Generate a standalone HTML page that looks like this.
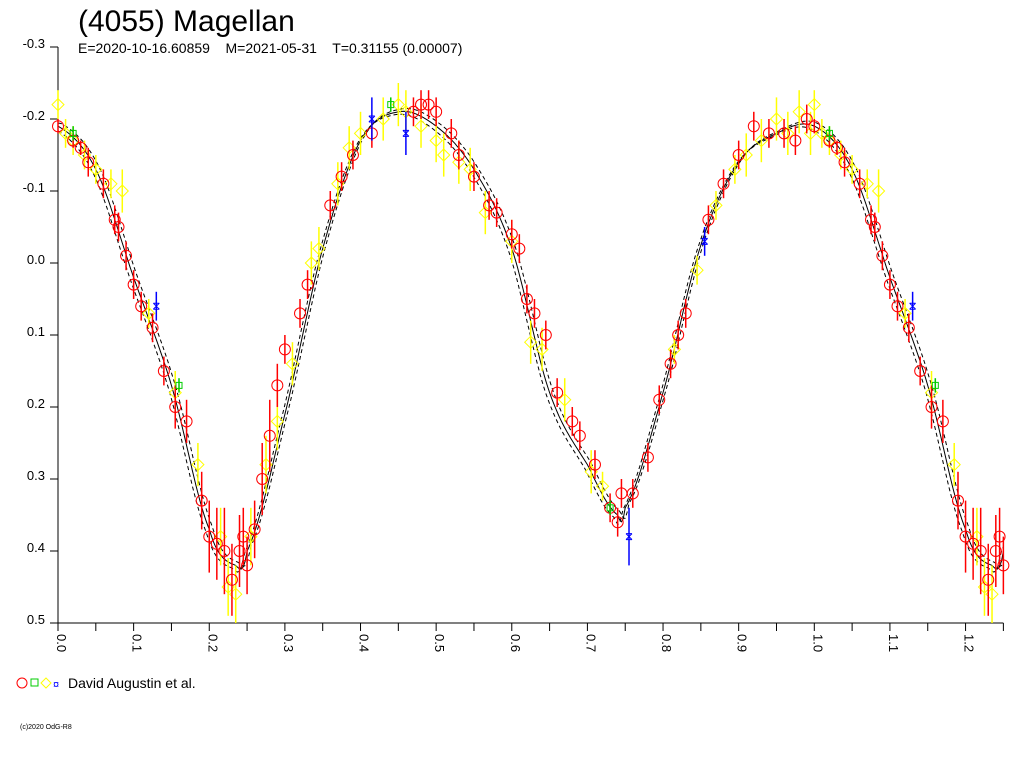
<!DOCTYPE html>
<html><head><meta charset="utf-8"><style>
body{margin:0;background:#fff;width:1024px;height:768px;overflow:hidden;font-family:"Liberation Sans",sans-serif}
svg text{font-family:"Liberation Sans",sans-serif}
</style></head><body>
<svg id="chart" width="1024" height="768" viewBox="0 0 1024 768" xmlns="http://www.w3.org/2000/svg">
<text x="78" y="31" font-size="30">(4055) Magellan</text>
<text x="78" y="53" font-size="14" style="white-space:pre" xml:space="preserve">E=2020-10-16.60859    M=2021-05-31    T=0.31155 (0.00007)</text>
<g id="axes"></g>
<g id="curves"></g>
<g id="obs"></g>
<g>
<circle cx="22" cy="683" r="5" fill="none" stroke="red"/>
<rect x="31" y="679" width="7" height="7" fill="none" stroke="#0c0"/>
<path d="M46 678 L51 683 L46 688 L41 683Z" fill="none" stroke="yellow"/>
<text x="53" y="688" font-size="11" fill="blue">¤</text>
<text x="68" y="688" font-size="14">David Augustin et al.</text>
</g>
<text x="20" y="729" font-size="7">(c)2020 OdG-R8</text>
</svg>
<script>
const curvePhase=[0,0.05,0.10,0.15,0.20,0.235,0.25,0.30,0.35,0.40,0.45,0.50,0.55,0.60,0.65,0.70,0.74,0.75,0.80,0.85,0.90,0.95,1.00];
const curveMag=[-0.19,-0.13,0.02,0.17,0.37,0.42,0.40,0.21,-0.02,-0.17,-0.21,-0.19,-0.13,-0.02,0.18,0.28,0.35,0.34,0.18,-0.025,-0.14,-0.18,-0.19];
const redPhase=[0,0.02,0.03,0.04,0.06,0.075,0.08,0.09,0.1,0.11,0.125,0.14,0.155,0.17,0.19,0.2,0.21,0.22,0.23,0.24,0.245,0.25,0.26,0.27,0.28,0.29,0.3,0.32,0.33,0.36,0.375,0.39,0.415,0.47,0.48,0.49,0.5,0.52,0.53,0.55,0.57,0.58,0.6,0.61,0.62,0.63,0.645,0.66,0.68,0.69,0.71,0.73,0.74,0.745,0.76,0.78,0.795,0.81,0.82,0.83,0.86,0.88,0.9,0.92,0.94,0.96,0.975,0.99];
const redMag=[-0.19,-0.17,-0.16,-0.14,-0.11,-0.06,-0.05,-0.01,0.03,0.06,0.09,0.15,0.2,0.22,0.33,0.38,0.39,0.4,0.44,0.4,0.38,0.42,0.37,0.3,0.24,0.17,0.12,0.07,0.03,-0.08,-0.12,-0.15,-0.18,-0.21,-0.22,-0.22,-0.21,-0.18,-0.15,-0.12,-0.08,-0.07,-0.04,-0.02,0.05,0.07,0.1,0.18,0.22,0.24,0.28,0.34,0.36,0.32,0.32,0.27,0.19,0.14,0.1,0.07,-0.06,-0.11,-0.15,-0.19,-0.18,-0.18,-0.17,-0.2];
const redErr=[0.01,0.01,0.01,0.02,0.02,0.02,0.02,0.02,0.02,0.02,0.02,0.02,0.03,0.03,0.04,0.05,0.05,0.06,0.05,0.05,0.04,0.04,0.04,0.05,0.05,0.03,0.02,0.02,0.02,0.02,0.02,0.02,0.02,0.02,0.02,0.02,0.02,0.02,0.02,0.02,0.02,0.02,0.02,0.02,0.02,0.02,0.02,0.02,0.02,0.02,0.02,0.02,0.02,0.02,0.02,0.02,0.02,0.02,0.02,0.02,0.02,0.02,0.02,0.02,0.02,0.02,0.02,0.02];
const yelPhase=[0.0,0.01,0.02,0.035,0.05,0.07,0.085,0.12,0.155,0.185,0.215,0.225,0.235,0.255,0.275,0.29,0.31,0.335,0.345,0.37,0.385,0.4,0.43,0.45,0.46,0.48,0.5,0.51,0.53,0.545,0.565,0.6,0.625,0.64,0.67,0.705,0.72,0.815,0.845,0.87,0.895,0.91,0.93,0.95,0.965,0.98,0.995];
const yelMag=[-0.22,-0.18,-0.17,-0.15,-0.13,-0.11,-0.1,0.07,0.18,0.28,0.38,0.45,0.46,0.38,0.28,0.22,0.14,0.0,-0.02,-0.11,-0.16,-0.18,-0.2,-0.22,-0.21,-0.19,-0.17,-0.15,-0.14,-0.13,-0.07,-0.03,0.11,0.12,0.19,0.29,0.31,0.12,0.01,-0.08,-0.13,-0.15,-0.17,-0.2,-0.18,-0.21,-0.18];
const yelErr=[0.02,0.02,0.02,0.02,0.02,0.02,0.03,0.02,0.03,0.03,0.04,0.04,0.04,0.04,0.04,0.04,0.03,0.03,0.03,0.03,0.03,0.03,0.03,0.03,0.03,0.03,0.03,0.03,0.03,0.03,0.03,0.03,0.03,0.03,0.03,0.03,0.02,0.02,0.02,0.02,0.02,0.03,0.03,0.03,0.03,0.03,0.03];
const bluePhase=[0.13,0.415,0.46,0.755,0.855];
const blueMag=[0.06,-0.2,-0.18,0.38,-0.03];
const blueErr=[0.02,0.03,0.03,0.04,0.02];
const greenPhase=[0.02,0.16,0.44,0.73];
const greenMag=[-0.18,0.17,-0.22,0.34];
const xTicks=[0,0.1,0.2,0.3,0.4,0.5,0.6,0.7,0.8,0.9,1.0,1.1,1.2];
const xLabels=["0.0","0.1","0.2","0.3","0.4","0.5","0.6","0.7","0.8","0.9","1.0","1.1","1.2"];
const yTicks=[-0.3,-0.2,-0.1,0,0.1,0.2,0.3,0.4,0.5];
const yLabels=["-0.3","-0.2","-0.1","0.0","0.1","0.2","0.3","0.4","0.5"];

const NS="http://www.w3.org/2000/svg";
const X=p=>58+p*756.3;
const Y=v=>47+(v+0.3)*720;
function mk(tag,par,attrs){const e=document.createElementNS(NS,tag);for(const k in attrs)e.setAttribute(k,attrs[k]);par.appendChild(e);return e;}
const ax=document.getElementById('axes');
let a=mk('line',ax,{x1:58,y1:Y(-0.3),x2:58,y2:Y(0.5),stroke:'#000'});


a=mk('line',ax,{x1:50,y1:Y(0.5),x2:X(1.25),y2:Y(0.5),stroke:'#000'});


yTicks.forEach((v,i)=>{
 mk('line',ax,{x1:50,y1:Y(v),x2:58,y2:Y(v),stroke:'#000'});
 const t=mk('text',ax,{x:45,y:Y(v)+1,'font-size':13,'text-anchor':'end'});
 t.textContent=yLabels[i];
 
 
});
for(let k=0;k<=25;k++){
 const p=k*0.05;
 mk('line',ax,{x1:X(p),y1:Y(0.5),x2:X(p),y2:Y(0.5)+8,stroke:'#000'});
}
xTicks.forEach((p,i)=>{
 const t=mk('text',ax,{x:0,y:0,'font-size':13,transform:`translate(${X(p)-1},${Y(0.5)+11}) rotate(90)`});
 t.textContent=xLabels[i];
 
 
});
const P=[],M=[];
curvePhase.forEach((p,i)=>{P.push(p);M.push(curveMag[i]);});
curvePhase.forEach((p,i)=>{if(i>0&&p<=0.3){P.push(p+1);M.push(curveMag[i]);}});
function interp(x){
 x=Math.max(0,Math.min(x,P[P.length-1]));
 let i=0;while(i<P.length-2&&P[i+1]<x)i++;
 const p0=M[Math.max(i-1,0)],p1=M[i],p2=M[i+1],p3=M[Math.min(i+2,M.length-1)];
 const t=(x-P[i])/(P[i+1]-P[i]);
 return 0.5*((2*p1)+(-p0+p2)*t+(2*p0-5*p1+4*p2-p3)*t*t+(-p0+3*p1-3*p2+p3)*t*t*t);
}
const cg=document.getElementById('curves');
[[0,0,'none'],[0.004,0.004,'4,3'],[-0.004,-0.004,'4,3']].forEach(([dx,dy,dash])=>{
 let d='';
 for(let x=0;x<=1.25;x+=0.0025){d+=(d?'L':'M')+X(x).toFixed(1)+' '+Y(interp(x+dx)+dy).toFixed(1);}
 const pa=mk('path',cg,{d:d,fill:'none',stroke:'#000','stroke-width':1,'stroke-dasharray':dash});
 
 
});
const og=document.getElementById('obs');
function drawSet(ph,mg,er,color,shape,name){
 ph.forEach((p,i)=>{
  const reps=[p];if(p<=0.25)reps.push(p+1);
  reps.forEach(pp=>{
   const x=X(pp),y=Y(mg[i]),e=(er?er[i]:0.01)*720;
   const g=mk('g',og,{});
   
   
   mk('line',g,{x1:x,y1:y-e,x2:x,y2:y+e,stroke:color,'stroke-width':1.5});
   if(shape==='c')mk('circle',g,{cx:x,cy:y,r:5.5,fill:'none',stroke:color});
   else if(shape==='d')mk('path',g,{d:`M${x} ${y-6}L${x+6} ${y}L${x} ${y+6}L${x-6} ${y}Z`,fill:'none',stroke:color});
   else if(shape==='s')mk('rect',g,{x:x-3,y:y-3,width:6,height:6,fill:'none',stroke:color});
   else mk('path',g,{d:`M${x-3} ${y-3}L${x+3} ${y+3}M${x+3} ${y-3}L${x-3} ${y+3}M${x-3} ${y-3}H${x+3}M${x-3} ${y+3}H${x+3}`,fill:'none',stroke:color});
  });
 });
}
drawSet(yelPhase,yelMag,yelErr,'#ff0','d','yellow-point');
drawSet(redPhase,redMag,redErr,'red','c','red-point');
drawSet(greenPhase,greenMag,null,'#0c0','s','green-point');
drawSet(bluePhase,blueMag,blueErr,'blue','x','blue-point');
</script>
</body></html>
